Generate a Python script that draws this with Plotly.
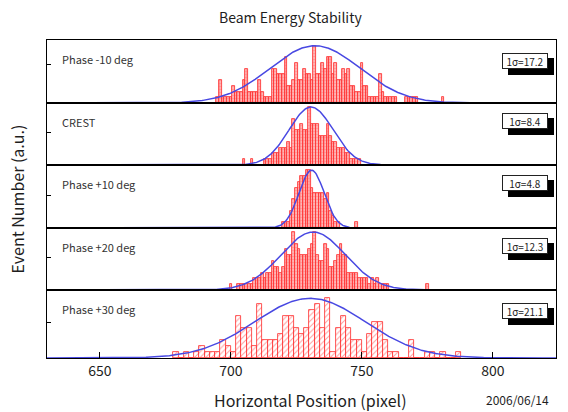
import numpy as np
import plotly.graph_objects as go
from plotly.subplots import make_subplots

# ---------------- data ----------------
panel_labels = ["Phase -10 deg", "CREST", "Phase +10 deg", "Phase +20 deg", "Phase +30 deg"]
sigma_labels = ["1σ=17.2", "1σ=8.4", "1σ=4.8", "1σ=12.3", "1σ=21.1"]

# histogram bins: first bin centre, bin width, counts (a.u.)
p1_start, p1_width = 695, 1
p1_counts = [1, 4, 1, 1, 1, 1, 3, 2, 2, 2,
             4, 6, 2, 2, 2, 2, 4, 2, 1, 1,
             1, 6, 6, 5, 5, 5, 8, 3, 3, 4,
             7, 4, 4, 6, 5, 5, 4, 10, 5, 5,
             7, 6, 8, 8, 5, 7, 4, 4, 6, 5,
             6, 3, 3, 2, 2, 7, 3, 3, 1, 1,
             1, 1, 5, 2, 1, 1, 1, 1, 1, 0,
             0, 0, 1, 1, 1, 1, 1, 0, 0, 0,
             0, 0, 0, 0, 0, 0, 1]

p2_start, p2_width = 705, 1
p2_counts = [1, 0, 0, 1, 0, 0, 0, 0, 1, 1,
             1, 2, 2, 2, 3, 3, 3, 4, 3, 8,
             6, 6, 7, 6, 6, 10, 7, 7, 7, 5,
             5, 5, 7, 5, 4, 4, 3, 3, 3, 2,
             2, 1, 1, 1, 1]

p3_start, p3_width = 720, 1
p3_counts = [1, 1, 1, 3, 5, 7, 8, 9, 9, 10,
             10, 7, 6, 6, 6, 6, 5, 6, 3, 2,
             1, 1, 0, 0, 0, 0, 0, 0, 1]

p4_start, p4_width = 700, 1
p4_counts = [1, 0, 0, 1, 1, 1, 1, 1, 1, 2,
             2, 2, 3, 2, 3, 3, 5, 4, 4, 3,
             4, 7, 6, 6, 10, 8, 7, 6, 6, 6,
             7, 8, 10, 6, 5, 5, 8, 7, 4, 4,
             5, 6, 8, 6, 6, 3, 3, 3, 3, 2,
             2, 2, 2, 1, 2, 1, 2, 1, 1, 1,
             1, 0, 0, 0, 0, 0, 0, 0, 0, 0,
             0, 0, 0, 0, 0, 1]

p5_start, p5_width = 679, 2
p5_counts = [1, 0, 1, 0, 1, 2, 1, 1, 1, 3,
             2, 1, 7, 5, 5, 2, 9, 3, 3, 3,
             4, 7, 7, 5, 4, 5, 8, 9, 5, 10,
             1, 5, 7, 5, 3, 3, 1, 4, 6, 6,
             3, 1, 1, 0, 0, 3, 0, 0, 1, 1,
             0, 1, 0, 0, 1]

# Gaussian fit parameters per panel
fit_centers = [732.1, 730.6, 730.8, 731.4, 730.2]
fit_sigmas = [17.2, 8.4, 4.8, 12.3, 21.1]
fit_amps = [10, 10, 10, 10, 10]

x_tick_vals = [650, 700, 750, 800]

# --------------- styling ---------------
hists = [(p1_start, p1_width, p1_counts), (p2_start, p2_width, p2_counts),
         (p3_start, p3_width, p3_counts), (p4_start, p4_width, p4_counts),
         (p5_start, p5_width, p5_counts)]
y_tops = [11.0, 10.7, 10.9, 10.7, 11.4]
y_tick_frac = [0.61, 0.53, 0.52, 0.52, 0.52]
box_drop = [13, 10, 10, 10, 13]
x_range = [629.8, 824.1]
FONT = "Noto Sans CJK JP"
TXT = "#1e1e1e"

fig = make_subplots(rows=5, cols=1, shared_xaxes=True, vertical_spacing=0,
                    row_heights=[63, 62, 63, 62, 68])

xs = np.linspace(x_range[0], x_range[1], 500)
shapes = []
for i, (start, w, counts) in enumerate(hists):
    row = i + 1
    centers = start + np.arange(len(counts)) * w
    wide = w > 1
    fig.add_trace(go.Bar(
        x=centers, y=counts, width=w,
        marker=dict(
            color="#ff8c8c",
            line=dict(color="#ff2a2a", width=0.8),
            pattern=dict(shape="/" if wide else "+",
                         fgcolor="#ff3a3a",
                         bgcolor="#ffffff" if wide else "#ffb4b4",
                         size=4 if wide else 3, solidity=0.25),
        ),
        showlegend=False, hoverinfo="skip"), row=row, col=1)
    gy = fit_amps[i] * np.exp(-0.5 * ((xs - fit_centers[i]) / fit_sigmas[i]) ** 2)
    fig.add_trace(go.Scatter(x=xs, y=gy, mode="lines",
                             line=dict(color="#4848e2", width=1.5),
                             showlegend=False, hoverinfo="skip"), row=row, col=1)

    xr = "x domain" if row == 1 else f"x{row} domain"
    yr = "y domain" if row == 1 else f"y{row} domain"
    fig.add_annotation(text=panel_labels[i], xref=xr, yref=yr, x=0, y=1,
                       xanchor="left", yanchor="top", xshift=13, yshift=-9,
                       showarrow=False, font=dict(family=FONT, size=11, color="#333333"))
    d = box_drop[i]
    # drop shadow of the sigma box
    shapes.append(dict(type="rect", xref=xr, yref=yr,
                       xsizemode="pixel", ysizemode="pixel",
                       xanchor=1, yanchor=1,
                       x0=-48, x1=-2, y0=-(d + 22), y1=-(d + 5),
                       fillcolor="black", line=dict(width=0), layer="above"))
    fig.add_annotation(text=sigma_labels[i], xref=xr, yref=yr, x=1, y=1,
                       xanchor="right", yanchor="top", xshift=-8, yshift=-d,
                       width=42, height=12, align="center",
                       showarrow=False, bgcolor="white", bordercolor="#222222",
                       borderwidth=1, borderpad=1,
                       font=dict(family=FONT, size=10, color=TXT))

    fig.update_yaxes(range=[0, y_tops[i]], tickvals=[y_tops[i] * y_tick_frac[i]],
                     showticklabels=False, ticks="inside", ticklen=4,
                     tickcolor="black", showgrid=False, zeroline=False,
                     showline=True, linecolor="black", linewidth=1.1, mirror=True,
                     row=row, col=1)
    fig.update_xaxes(range=x_range, showgrid=False, zeroline=False,
                     showline=True, linecolor="black", linewidth=1.1, mirror=True,
                     tickvals=x_tick_vals, ticks="" if row < 5 else "inside",
                     ticklen=6, tickcolor="black",
                     showticklabels=(row == 5),
                     tickfont=dict(family=FONT, size=14, color=TXT),
                     row=row, col=1)

fig.update_layout(
    width=568, height=412,
    margin=dict(l=47, r=12, t=40, b=54),
    plot_bgcolor="white", paper_bgcolor="white",
    bargap=0, barmode="overlay",
    shapes=shapes,
    annotations=list(fig.layout.annotations) + [
        dict(text="Beam Energy Stability", xref="paper", yref="paper",
             x=0.479, y=1.072, xanchor="center", yanchor="middle", showarrow=False,
             font=dict(family=FONT, size=14, color=TXT)),
        dict(text="Horizontal Position (pixel)", xref="paper", yref="paper",
             x=0.517, y=-0.132, xanchor="center", yanchor="middle", showarrow=False,
             font=dict(family=FONT, size=16, color=TXT)),
        dict(text="2006/06/14", xref="paper", yref="paper",
             x=0.925, y=-0.132, xanchor="center", yanchor="middle", showarrow=False,
             font=dict(family=FONT, size=12, color=TXT)),
        dict(text="Event Number (a.u.)", xref="paper", yref="paper",
             x=-0.058, y=0.5, xanchor="center", yanchor="middle",
             textangle=-90, showarrow=False,
             font=dict(family=FONT, size=16, color=TXT)),
    ],
)

fig.write_html("out.html")
